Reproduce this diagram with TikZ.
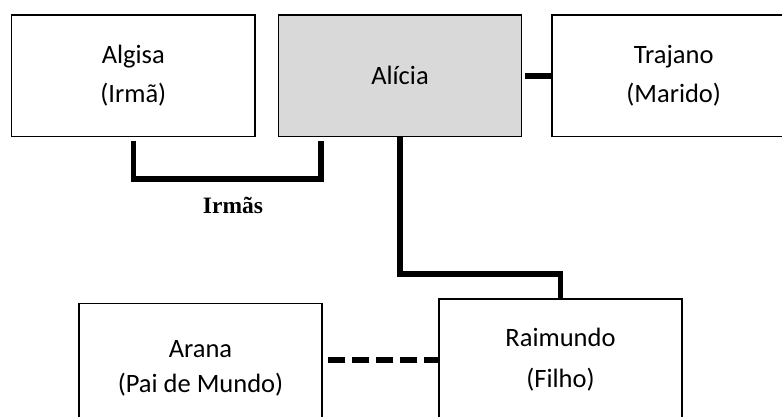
\documentclass[tikz,border=0pt]{standalone}
\usepackage{fontspec}
\setmainfont{Carlito}
\newfontfamily\timesfont{Liberation Serif}
\begin{document}
\begin{tikzpicture}[x=1pt,y=-1pt,
  person/.style={draw=black, line width=1.5pt, fill=white, inner sep=0pt,
    minimum width=243.3pt, minimum height=121.7pt, align=center,
    font=\fontsize{26.5}{39}\selectfont},
  self/.style={person, fill=black!15},
  link/.style={line width=5.5pt, black},
  stepdash/.style={link, dash pattern=on 16.7pt off 7.3pt}
]
\useasboundingbox (0,0) rectangle (782,417);
\fill[white] (0,0) rectangle (782,417);
\clip (0,0) rectangle (782,417);

% people
\node[person] (algisa)   at (133.3,75.8)  {Algisa\\(Irmã)};
\node[self]   (alicia)   at (400,75.8)    {Alícia};
\node[person] (trajano)  at (673.7,75.8)  {Trajano\\(Marido)};
\node[person] (arana)    at (200.5,364.2) {\rule{0pt}{25pt}Arana\\[-3.6pt](Pai de Mundo)};
\node[person] (raimundo) at (560.5,359.9) {Raimundo\\[1.6pt](Filho)};

% sisters bracket
\coordinate (sis) at ([xshift=43.4pt]alicia.south west);
\draw[link, shorten <=3.3pt, shorten >=3.3pt]
  (algisa.south) -- ++(0,41.7) -| (sis);
\node[anchor=base, font=\timesfont\bfseries\fontsize{23.5}{28}\selectfont]
  (irmas) at (233,213.3) {Irmãs};

% spouse
\draw[link, shorten <=2.3pt] (alicia.east) -- (trajano.west);

% child
\draw[link] (alicia.south) -- ++(0,136.6) -| (raimundo.north);

% child's father
\draw[stepdash, shorten <=5pt] (raimundo.west -| arana.east) -- (raimundo.west);
\end{tikzpicture}
\end{document}
